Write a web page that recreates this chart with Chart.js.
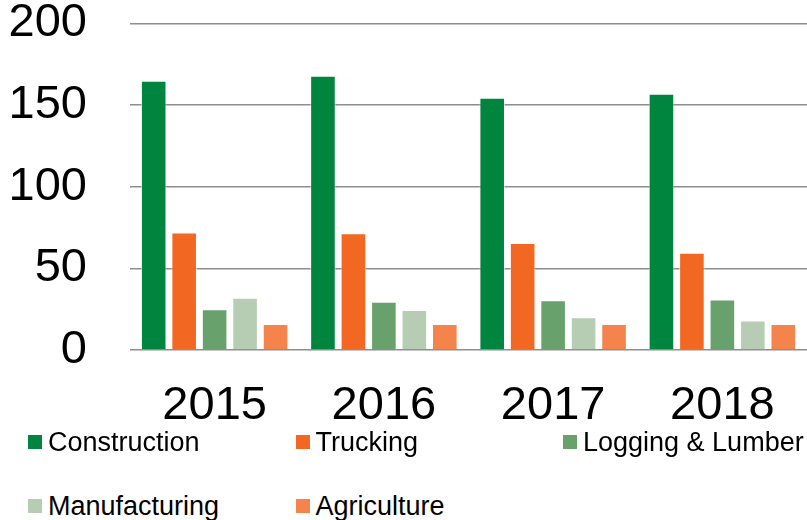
<!DOCTYPE html>
<html>
<head>
<meta charset="utf-8">
<script src="https://cdn.jsdelivr.net/npm/chart.js@4"></script>
<style>
  body { margin: 0; background: #fff; font-family: "Liberation Sans", Arial, sans-serif; }
  #wrap { position: relative; width: 807px; height: 520px; overflow: hidden; }
  #chartBox { position: absolute; left: 0; top: 0; width: 807px; height: 435px; }
  .legend-item { position: absolute; height: 30px; display: flex; align-items: center; font-size: 27px; line-height: 30px; color: #000; white-space: nowrap; }
  .legend-item span.box { width: 14px; height: 14px; margin-right: 6px; flex: none; }
</style>
</head>
<body>
<div id="wrap">
  <div id="chartBox"><canvas id="barChart"></canvas></div>
  <div id="legend"></div>
</div>
<script>
// Data
const years = ['2015', '2016', '2017', '2018'];
const seriesNames = ['Construction', 'Trucking', 'Logging & Lumber', 'Manufacturing', 'Agriculture'];
const construction = [165, 168, 154.5, 157];
const trucking = [72, 71.5, 65.5, 59.5];
const loggingLumber = [25, 29.5, 30.5, 31];
const manufacturing = [32, 24.5, 20, 18];
const agriculture = [16, 16, 16, 16];
const yTicks = [0, 50, 100, 150, 200];

const seriesColors = ['#00853f', '#f26722', '#69a16c', '#b6cdb3', '#f4844c'];
const seriesValues = [construction, trucking, loggingLumber, manufacturing, agriculture];

const fontFamily = '"Liberation Sans", Arial, sans-serif';

const datasets = seriesNames.map((name, i) => ({
  label: name,
  data: seriesValues[i],
  backgroundColor: seriesColors[i],
  borderColor: 'rgba(255,255,255,0.55)',
  borderWidth: 1,
  categoryPercentage: 0.9,
  barPercentage: 0.84,
}));

new Chart(document.getElementById('barChart').getContext('2d'), {
  type: 'bar',
  data: { labels: years, datasets: datasets },
  options: {
    responsive: true,
    maintainAspectRatio: false,
    animation: false,
    layout: { padding: { top: 1, left: 0, right: 0, bottom: 0 } },
    plugins: {
      legend: { display: false },
      tooltip: { enabled: false },
    },
    scales: {
      x: {
        afterFit: (scale) => {
          scale.height = 85;
        },
        grid: { display: false, drawTicks: false },
        border: { display: false },
        ticks: {
          color: '#000',
          padding: 28,
          font: { family: fontFamily, size: 47, lineHeight: 1.2 },
        },
      },
      y: {
        min: 0,
        max: 200,
        afterBuildTicks: (scale) => {
          scale.ticks = yTicks.map((v) => ({ value: v }));
        },
        afterFit: (scale) => {
          // fixed axis width, and keep the big tick padding out of the top/bottom space
          scale.width = 130;
          scale.paddingTop = 23.5;
          scale.paddingBottom = 23.5;
        },
        grid: { color: '#8e8e8e', lineWidth: 1.4, drawTicks: false },
        border: { display: false },
        ticks: {
          color: '#000',
          padding: 43,
          font: { family: fontFamily, size: 47, lineHeight: 1 },
        },
      },
    },
  },
});

// Legend laid out in three columns under the chart
const legend = document.getElementById('legend');
const rowCenters = [442, 506];
seriesNames.forEach((name, i) => {
  const col = i % 3;
  const row = Math.floor(i / 3);
  const item = document.createElement('div');
  item.className = 'legend-item';
  item.style.left = (28 + col * 267.5) + 'px';
  item.style.top = (rowCenters[row] - 15) + 'px';
  const box = document.createElement('span');
  box.className = 'box';
  box.style.background = seriesColors[i];
  const text = document.createElement('span');
  text.textContent = name;
  item.appendChild(box);
  item.appendChild(text);
  legend.appendChild(item);
});
</script>
</body>
</html>
